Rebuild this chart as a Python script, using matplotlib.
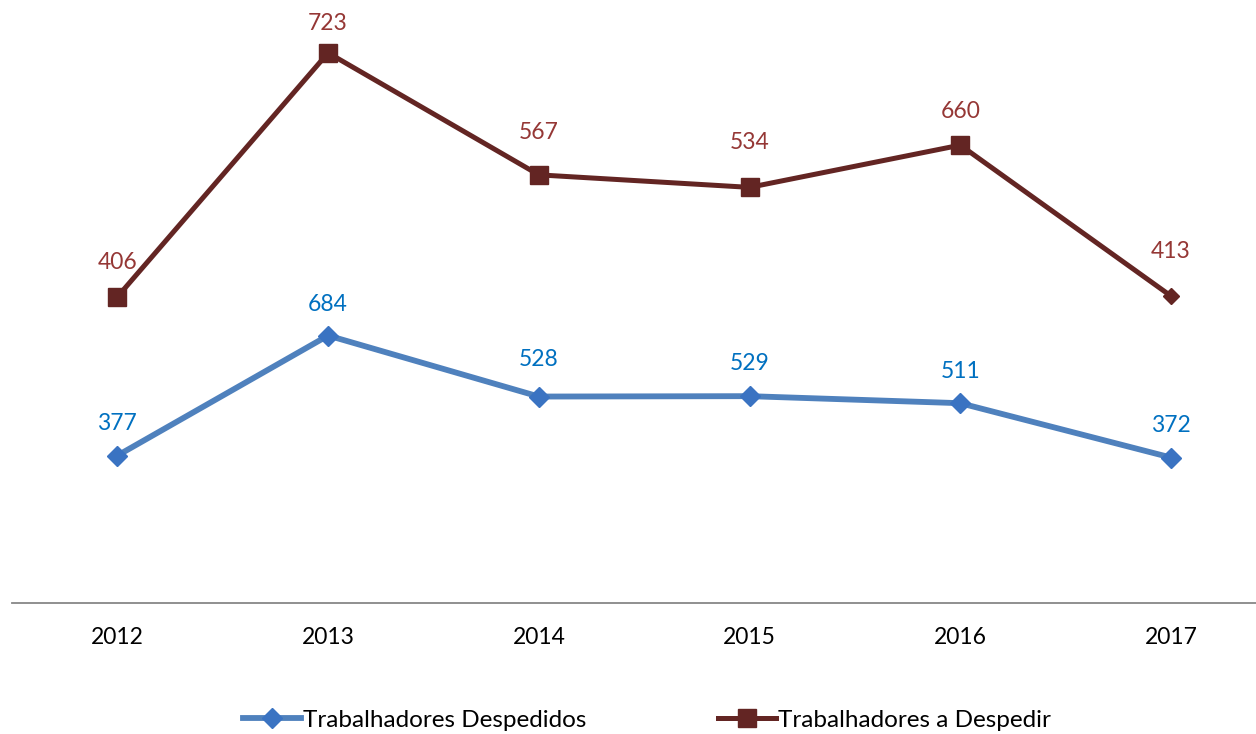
import matplotlib
matplotlib.use("Agg")
import matplotlib.pyplot as plt
import numpy as np
from matplotlib.lines import Line2D

plt.rcParams['font.family'] = ['Lato', 'DejaVu Sans']

years = ["2012", "2013", "2014", "2015", "2016", "2017"]
despedidos = [377, 684, 528, 529, 511, 372]
a_despedir = [406, 723, 567, 534, 660, 413]

# label offsets above points (pixels) - styling only
blue_off = [32, 31, 37, 33, 32, 32]
red_off = [34, 29, 42, 45, 34, 45]

blue_line = '#4F81BD'
blue_marker = '#3A73C2'
blue_text = '#0070C0'
red_line = '#632523'
red_text = '#953735'
FS = 16.5
LFS = 17.5

fig = plt.figure(figsize=(12.56, 7.34), dpi=100)
ax = fig.add_axes([12/1256, (734-603)/734, 1244/1256, 603/734])

x = np.arange(len(years))
stacked = np.array(despedidos) + np.array(a_despedir)

ax.plot(x, despedidos, color=blue_line, lw=4.2, marker='D', ms=10.2,
        mfc=blue_marker, mec=blue_marker, zorder=3)
ax.plot(x, stacked, color=red_line, lw=3.6, zorder=3)
ax.plot(x[:-1], stacked[:-1], ls='none', marker='s', ms=13.5,
        mfc=red_line, mec=red_line, zorder=4)
ax.plot(x[-1:], stacked[-1:], ls='none', marker='D', ms=8.5,
        mfc=red_line, mec=red_line, zorder=4)

for xi, v, o in zip(x, despedidos, blue_off):
    ax.annotate(str(v), (xi, v), xytext=(0, o), textcoords='offset pixels',
                ha='center', va='center', color=blue_text, fontsize=FS)
for xi, v, s, o in zip(x, a_despedir, stacked, red_off):
    ax.annotate(str(v), (xi, s), xytext=(0, o), textcoords='offset pixels',
                ha='center', va='center', color=red_text, fontsize=FS)

ax.set_xlim(-0.5, (1256-117)/210.8)
ax.set_ylim(0, 603/0.391)
ax.set_xticks(x)
ax.set_xticklabels(years, fontsize=FS, color='black')
ax.set_yticks([])
ax.tick_params(axis='x', length=0, pad=17.5)
for s in ['top', 'right', 'left']:
    ax.spines[s].set_visible(False)
ax.spines['bottom'].set_color('#878787')
ax.spines['bottom'].set_linewidth(1.3)

h1 = Line2D([], [], color=blue_line, lw=4.2, marker='D', ms=10.2,
            mfc=blue_marker, mec=blue_marker)
h2 = Line2D([], [], color=red_line, lw=3.6, marker='s', ms=13.5,
            mfc=red_line, mec=red_line)
fig.legend([h1, h2], ["Trabalhadores Despedidos", "Trabalhadores a Despedir"],
           loc='center', bbox_to_anchor=(647/1256, 1-720/734), ncol=2,
           frameon=False, fontsize=LFS, handlelength=2.4, handletextpad=0.08,
           columnspacing=5.4)

fig.savefig("out.png", dpi=100)
